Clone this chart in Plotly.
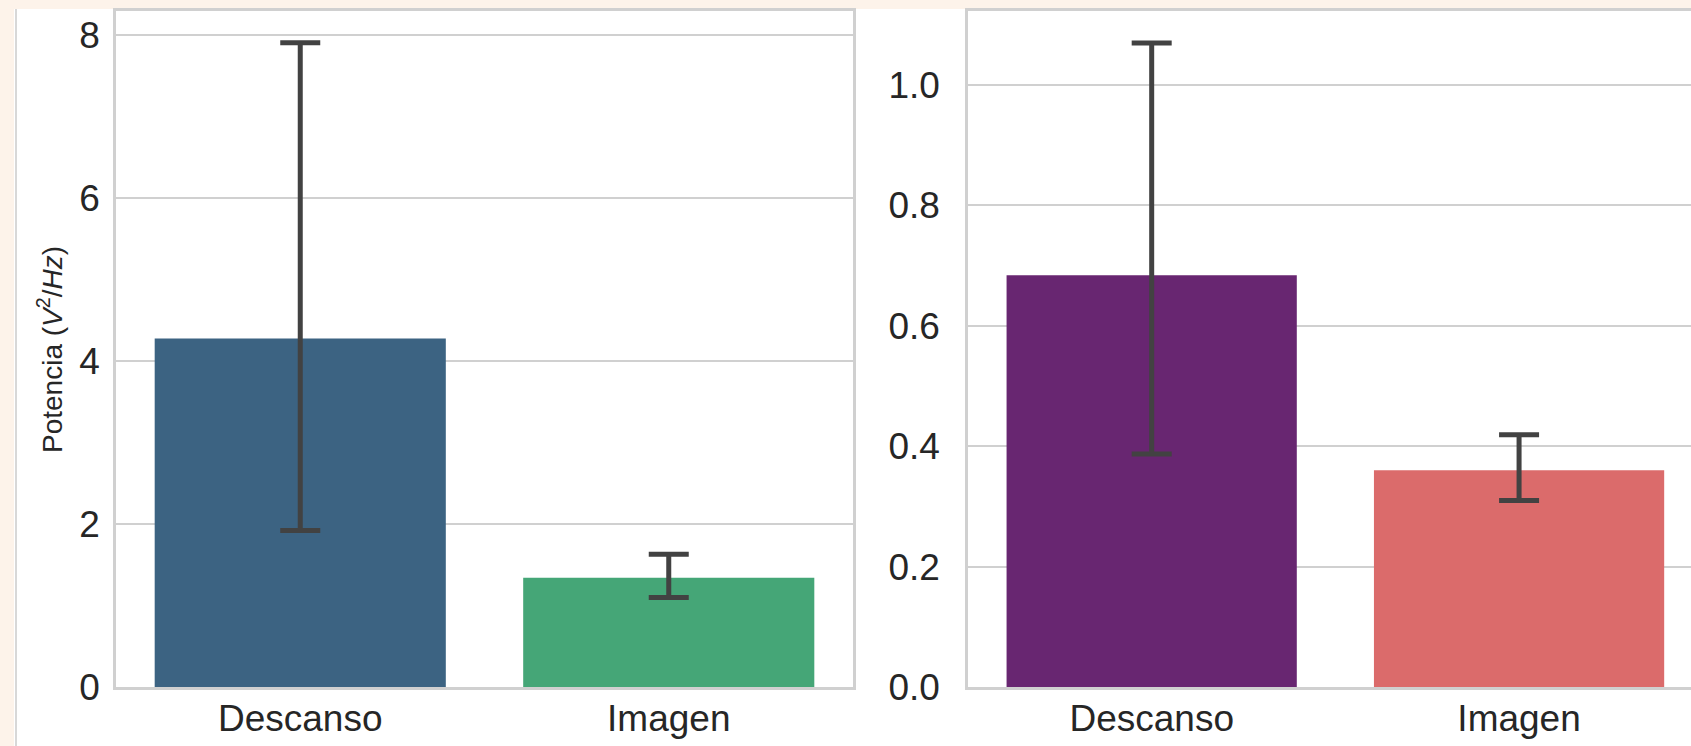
import plotly.graph_objects as go

categories = ["Descanso", "Imagen"]

left_values = [4.28, 1.34]
left_err_upper = [7.91, 1.63]
left_err_lower = [1.92, 1.10]
left_colors = ["#3c6382", "#45a677"]

right_values = [0.684, 0.360]
right_err_upper = [1.070, 0.419]
right_err_lower = [0.387, 0.310]
right_colors = ["#682671", "#db6b6b"]

left_ticks = [0, 2, 4, 6, 8]
right_ticks = [0.0, 0.2, 0.4, 0.6, 0.8, 1.0]
right_tick_text = ["0.0", "0.2", "0.4", "0.6", "0.8", "1.0"]

W, H = 1691, 746
fig = go.Figure()

err_style = dict(type="data", symmetric=False, color="#424242", thickness=5, width=20)

fig.add_trace(go.Bar(
    x=categories, y=left_values, marker=dict(color=left_colors, line=dict(width=0)),
    width=0.79, xaxis="x", yaxis="y",
    error_y=dict(array=[u - v for u, v in zip(left_err_upper, left_values)],
                 arrayminus=[v - l for l, v in zip(left_err_lower, left_values)], **err_style),
    showlegend=False))
fig.add_trace(go.Bar(
    x=categories, y=right_values, marker=dict(color=right_colors, line=dict(width=0)),
    width=0.79, xaxis="x2", yaxis="y2",
    error_y=dict(array=[u - v for u, v in zip(right_err_upper, right_values)],
                 arrayminus=[v - l for l, v in zip(right_err_lower, right_values)], **err_style),
    showlegend=False))

font_family = "Liberation Sans, Arial, sans-serif"
tick_font = dict(family=font_family, size=37, color="#262626")
grid_col = "#d0d0d0"

ydom = [59 / H, 735 / H]
common_axis = dict(showline=True, linecolor=grid_col, linewidth=2.5,
                   ticks="", tickfont=tick_font, zeroline=False, automargin=False)

fig.update_layout(
    template="none",
    width=W, height=H,
    margin=dict(l=0, r=0, t=0, b=0, pad=0),
    paper_bgcolor="white", plot_bgcolor="white",
    xaxis=dict(domain=[116 / W, 853 / W], range=[-0.5, 1.5], showgrid=False,
               ticklabelstandoff=-3, mirror=True, **common_axis),
    yaxis=dict(domain=ydom, range=[0, 8.30], tickvals=left_ticks,
               showgrid=True, gridcolor=grid_col, gridwidth=2,
               ticklabelstandoff=6, mirror=True, **common_axis),
    xaxis2=dict(domain=[968 / W, 1.0], range=[-0.5, 1.468], showgrid=False,
                anchor="y2", ticklabelstandoff=-3, mirror=True, **common_axis),
    yaxis2=dict(domain=ydom, range=[0, 1.123], tickvals=right_ticks, ticktext=right_tick_text,
                showgrid=True, gridcolor=grid_col, gridwidth=2, anchor="x2",
                ticklabelstandoff=18, mirror=False, **common_axis),
    annotations=[
        dict(text="Potencia (<i>V</i><sup>2</sup>/<i>Hz</i>)", xref="paper", yref="paper",
             x=50 / W, y=(746 - 350) / H, textangle=-90, showarrow=False,
             xanchor="center", yanchor="middle",
             font=dict(family=font_family, size=28, color="#262626")),
    ],
    shapes=[
        dict(type="rect", xref="paper", yref="paper", x0=0, x1=14 / W, y0=0, y1=1,
             fillcolor="#fdf3ea", line=dict(width=0), layer="below"),
        dict(type="rect", xref="paper", yref="paper", x0=0, x1=1, y0=1 - 9 / H, y1=1,
             fillcolor="#fdf3ea", line=dict(width=0), layer="below"),
        dict(type="line", xref="paper", yref="paper", x0=16 / W, x1=16 / W, y0=0, y1=1 - 9 / H,
             line=dict(color="#d8d8d8", width=2)),
    ],
)

fig.write_html("out.html")
